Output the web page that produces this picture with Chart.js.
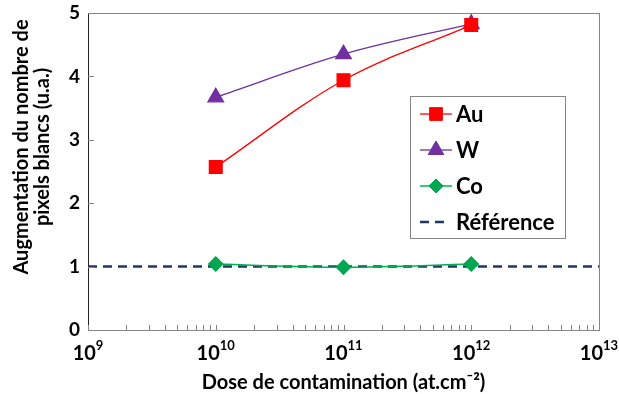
<!DOCTYPE html>
<html>
<head>
<meta charset="utf-8">
<script src="https://cdn.jsdelivr.net/npm/chart.js@4.4.1/dist/chart.umd.min.js"></script>
<style>
  html, body { margin: 0; padding: 0; background: #fff; }
  #wrap { width: 619px; height: 394px; }
</style>
</head>
<body>
<div id="wrap"><canvas id="chart"></canvas></div>
<script>
"use strict";

// data
const doses = [1e10, 1e11, 1e12];
const auValues = [2.57, 3.94, 4.81];
const wValues = [3.67, 4.35, 4.83];
const coValues = [1.04, 0.99, 1.04];
const referenceValue = 1;
const xExponents = [9, 10, 11, 12, 13];
const yTicks = [0, 1, 2, 3, 4, 5];
const xTitle = 'Dose de contamination (at.cm⁻²)';
const yTitle = ['Augmentation du nombre de', 'pixels blancs (u.a.)'];

const FONT = 'Lato, "Open Sans", sans-serif';
const xMin = Math.pow(10, xExponents[0]);
const xMax = Math.pow(10, xExponents[xExponents.length - 1]);

const pts = (vals) => vals.map((v, i) => ({ x: doses[i], y: v }));

// frame, inner tick marks, tick labels, axis titles
const decorations = {
  id: 'decorations',
  afterDraw(chart) {
    const { ctx, chartArea: a, scales: { x, y } } = chart;
    ctx.save();

    ctx.strokeStyle = '#868686';
    ctx.lineWidth = 1;
    ctx.strokeRect(a.left + 0.5, a.top + 0.5, a.right - a.left, a.bottom - a.top);
    ctx.strokeStyle = '#222';
    ctx.beginPath();
    ctx.moveTo(a.left + 0.5, a.top);
    ctx.lineTo(a.left + 0.5, a.bottom + 1);
    ctx.stroke();

    // ticks inside the plot
    ctx.strokeStyle = '#868686';
    ctx.beginPath();
    for (const t of yTicks) {
      const py = Math.round(y.getPixelForValue(t)) + 0.5;
      ctx.moveTo(a.left, py);
      ctx.lineTo(a.left + 6, py);
    }
    for (let e = xExponents[0]; e < xExponents[xExponents.length - 1]; e++) {
      for (let m = 1; m <= 10; m++) {
        const px = Math.round(x.getPixelForValue(m * Math.pow(10, e))) + 0.5;
        ctx.moveTo(px, a.bottom);
        ctx.lineTo(px, a.bottom - 5);
      }
    }
    ctx.stroke();

    // y tick labels
    ctx.fillStyle = '#000';
    ctx.font = 'bold 19px ' + FONT;
    ctx.textAlign = 'right';
    ctx.textBaseline = 'middle';
    for (const t of yTicks) {
      ctx.fillText(String(t), a.left - 8, y.getPixelForValue(t));
    }

    // x tick labels: 10 with superscript exponent
    ctx.textBaseline = 'alphabetic';
    for (const e of xExponents) {
      const px = x.getPixelForValue(Math.pow(10, e));
      ctx.font = 'bold 20px ' + FONT;
      const wBase = ctx.measureText('10').width;
      ctx.font = 'bold 13px ' + FONT;
      const wExp = ctx.measureText(String(e)).width;
      const start = px - (wBase + wExp) / 2;
      ctx.textAlign = 'left';
      ctx.font = 'bold 20px ' + FONT;
      ctx.fillText('10', start, a.bottom + 30);
      ctx.font = 'bold 13px ' + FONT;
      ctx.fillText(String(e), start + wBase, a.bottom + 20);
    }

    // axis titles
    ctx.font = 'bold 20px ' + FONT;
    ctx.textAlign = 'center';
    ctx.fillText(xTitle, (a.left + a.right) / 2, 389);

    ctx.translate(32, 147);
    ctx.rotate(-Math.PI / 2);
    ctx.textBaseline = 'middle';
    ctx.fillText(yTitle[0], 0, -10);
    ctx.fillText(yTitle[1], 0, 11);
    ctx.restore();
  }
};

// legend box inside the plot
const boxLegend = {
  id: 'boxLegend',
  afterDraw(chart) {
    const { ctx } = chart;
    const bx = 410, by = 96, bw = 155, bh = 142;
    ctx.save();
    ctx.fillStyle = '#fff';
    ctx.fillRect(bx, by, bw, bh);
    ctx.strokeStyle = '#868686';
    ctx.lineWidth = 1;
    ctx.strokeRect(bx + 0.5, by + 0.5, bw, bh);

    chart.data.datasets.forEach((ds, i) => {
      const ry = by + 18 + i * 36;
      ctx.strokeStyle = ds.borderColor;
      ctx.lineWidth = ds.borderWidth;
      ctx.setLineDash(ds.borderDash || []);
      ctx.beginPath();
      ctx.moveTo(bx + 10, ry);
      ctx.lineTo(bx + (ds.borderDash ? 40 : 42), ry);
      ctx.stroke();
      ctx.setLineDash([]);
      if (ds.pointRadius > 0) {
        ctx.fillStyle = ds.pointBackgroundColor;
        ctx.strokeStyle = ds.pointBorderColor;
        ctx.lineWidth = 1;
        Chart.helpers.drawPoint(ctx, {
          pointStyle: ds.pointStyle, rotation: 0,
          radius: ds.pointRadius, borderWidth: 1
        }, bx + 26, ry);
      }
      ctx.fillStyle = '#000';
      ctx.font = 'bold 22px ' + FONT;
      ctx.textAlign = 'left';
      ctx.textBaseline = 'middle';
      ctx.fillText(ds.label, bx + 46, ry + 1);
    });
    ctx.restore();
  }
};

new Chart(document.getElementById('chart'), {
  type: 'line',
  data: {
    datasets: [
      {
        label: 'Au',
        data: pts(auValues),
        borderColor: '#FF0000',
        borderWidth: 1.3,
        pointStyle: 'rect',
        pointRadius: 9,
        pointBackgroundColor: '#FF0000',
        pointBorderColor: '#FF0000',
        tension: 0.35
      },
      {
        label: 'W',
        data: pts(wValues),
        borderColor: '#7030A0',
        borderWidth: 1.3,
        pointStyle: 'triangle',
        pointRadius: 9,
        pointBackgroundColor: '#7030A0',
        pointBorderColor: '#7030A0',
        tension: 0.35
      },
      {
        label: 'Co',
        data: pts(coValues),
        borderColor: '#00B050',
        borderWidth: 1.5,
        pointStyle: 'rectRot',
        pointRadius: 7,
        pointBackgroundColor: '#00A650',
        pointBorderColor: '#00A650',
        tension: 0.35
      },
      {
        label: 'Référence',
        data: [{ x: xMin, y: referenceValue }, { x: xMax, y: referenceValue }],
        borderColor: '#1F3864',
        borderWidth: 2.5,
        borderDash: [9, 6],
        pointRadius: 0
      }
    ]
  },
  options: {
    responsive: true,
    maintainAspectRatio: false,
    animation: false,
    events: [],
    layout: { padding: { top: 13, right: 20, left: 0, bottom: 0 } },
    scales: {
      x: {
        type: 'logarithmic',
        min: xMin,
        max: xMax,
        grid: { display: false },
        border: { display: false },
        ticks: { display: false },
        afterFit(s) { s.height = 64; }
      },
      y: {
        min: 0,
        max: 5,
        grid: { display: false },
        border: { display: false },
        ticks: { display: false, stepSize: 1 },
        afterFit(s) { s.width = 88; }
      }
    },
    plugins: {
      legend: { display: false },
      tooltip: { enabled: false }
    }
  },
  plugins: [decorations, boxLegend]
});
</script>
</body>
</html>
